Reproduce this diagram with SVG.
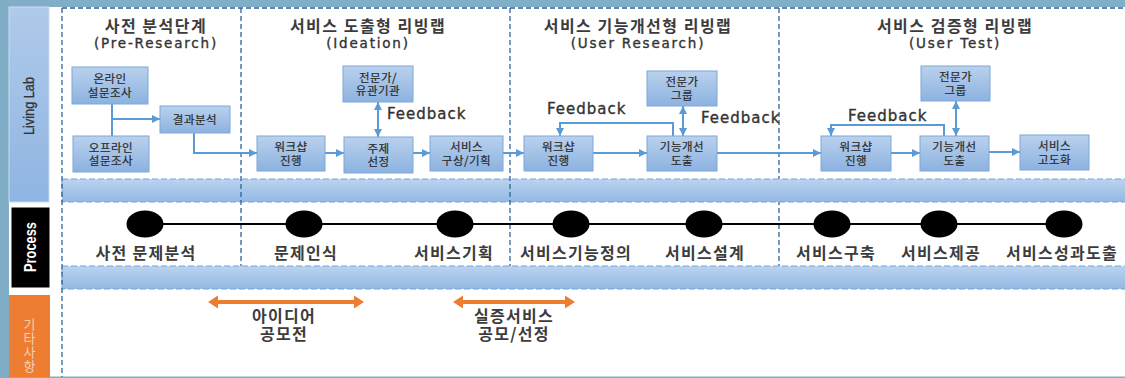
<svg xmlns="http://www.w3.org/2000/svg" width="1125" height="378" viewBox="0 0 1125 378">
<defs>
<linearGradient id="gBox" x1="0" y1="0" x2="0" y2="1"><stop offset="0" stop-color="#BAD1ED"/><stop offset="1" stop-color="#8CB2E0"/></linearGradient>
<linearGradient id="gBand" x1="0" y1="0" x2="0" y2="1"><stop offset="0" stop-color="#BCD3EF"/><stop offset="1" stop-color="#93B8E4"/></linearGradient>
<linearGradient id="gLL" x1="0" y1="0" x2="0" y2="1"><stop offset="0" stop-color="#AFCAEA"/><stop offset="1" stop-color="#8FB5E2"/></linearGradient>
<marker id="ah" viewBox="0 0 8 8" refX="8" refY="4" markerWidth="8" markerHeight="8" markerUnits="userSpaceOnUse" orient="auto-start-reverse"><path d="M0,0 L8,4 L0,8 z" fill="#5B9BD5"/></marker>
</defs>
<style>
.box{fill:url(#gBox);stroke:#7DA8DA;stroke-width:1}
.bt{font-family:"Noto Sans CJK KR","Noto Sans CJK SC",sans-serif;font-size:11.5px;fill:#2A2A2A;text-anchor:middle;letter-spacing:0.5px;stroke:#2A2A2A;stroke-width:0.2px}
.title{font-family:"Noto Sans CJK KR","Noto Sans CJK SC",sans-serif;font-size:16px;font-weight:700;fill:#3C3C3C;text-anchor:middle;letter-spacing:1.5px}
.sub{font-family:"DejaVu Sans",sans-serif;font-size:13.5px;fill:#333;text-anchor:middle;letter-spacing:1.8px;stroke:#333;stroke-width:0.35px}
.fb{font-family:"DejaVu Sans",sans-serif;font-size:15px;fill:#333;letter-spacing:1px;stroke:#333;stroke-width:0.35px}
.pl{font-family:"Noto Sans CJK KR","Noto Sans CJK SC",sans-serif;font-size:16px;font-weight:700;fill:#3C3C3C;text-anchor:middle;letter-spacing:1.3px}
.conn{fill:none;stroke:#5B9BD5;stroke-width:2}
.dash{stroke:#2F6496;stroke-width:1.3;stroke-dasharray:5 3;fill:none}
.band{fill:url(#gBand);stroke:#6FA6DC;stroke-width:1.2;stroke-dasharray:6 3}
.dot{fill:#000}
.orange{fill:#ED7D31}
</style>

<!-- frame -->
<rect x="0" y="0" width="1125" height="378" fill="#7FAEC6"/>
<rect x="9" y="7" width="1116" height="369.5" fill="#FFFFFF"/>

<!-- side labels -->
<g id="side-livinglab">
<rect x="9" y="7" width="40" height="195" fill="url(#gLL)" stroke="#C9DBF1" stroke-width="1"/>
<text transform="translate(34,106) rotate(-90)" text-anchor="middle" font-family="Liberation Sans, sans-serif" font-size="15" fill="#333" stroke="#333" stroke-width="0.3" textLength="58" lengthAdjust="spacingAndGlyphs">Living Lab</text>
</g>
<g id="side-process">
<rect x="11" y="207" width="39" height="81" fill="#000" stroke="#FFFFFF" stroke-width="1"/>
<text transform="translate(35.5,247) rotate(-90)" text-anchor="middle" font-family="Liberation Sans, sans-serif" font-size="16" font-weight="700" fill="#FFFFFF" textLength="50" lengthAdjust="spacingAndGlyphs">Process</text>
</g>
<g id="side-etc">
<rect x="9" y="295" width="41" height="82" fill="#ED7D31"/>
<text x="29.5" y="318" font-family="Noto Sans CJK KR, Noto Sans CJK SC, sans-serif" font-size="13" fill="#F8CFB0" style="writing-mode:vertical-rl;text-orientation:upright" letter-spacing="1">기타사항</text>
</g>

<!-- phase dividers and bands -->
<g id="grid">
<line class="dash" x1="779" y1="8" x2="779" y2="266"/>
<line class="dash" x1="62" y1="8" x2="1125" y2="8"/>
<rect class="band" x="62" y="179" width="1070" height="23"/>
<rect class="band" x="62" y="266" width="1070" height="23"/>
<line class="dash" x1="62" y1="8" x2="62" y2="377"/>
<line class="dash" x1="241" y1="8" x2="241" y2="266"/>
<line class="dash" x1="510" y1="8" x2="510" y2="266"/>
</g>

<!-- phase titles -->
<g id="phase-pre">
<text class="title" x="156" y="31.5">사전 분석단계</text>
<text class="sub" x="156" y="47.5">(Pre-Research)</text>
</g>
<g id="phase-ideation">
<text class="title" x="368" y="31.5">서비스 도출형 리빙랩</text>
<text class="sub" x="368" y="47.5">(Ideation)</text>
</g>
<g id="phase-userresearch">
<text class="title" x="638" y="31.5">서비스 기능개선형 리빙랩</text>
<text class="sub" x="638" y="47.5">(User Research)</text>
</g>
<g id="phase-usertest">
<text class="title" x="955" y="31.5">서비스 검증형 리빙랩</text>
<text class="sub" x="955" y="47.5">(User Test)</text>
</g>

<!-- connectors -->
<g id="connectors">
<path class="conn" d="M112,104 V136"/>
<path class="conn" d="M112,119 H160" marker-end="url(#ah)"/>
<path class="conn" d="M194,133 V153 H257" marker-end="url(#ah)"/>
<path class="conn" d="M325,153 H344" marker-end="url(#ah)"/>
<path class="conn" d="M413,153 H430" marker-end="url(#ah)"/>
<path class="conn" d="M503,153 H524" marker-end="url(#ah)"/>
<path class="conn" d="M593,153 H647" marker-end="url(#ah)"/>
<path class="conn" d="M717,153 H821" marker-end="url(#ah)"/>
<path class="conn" d="M891,153 H920" marker-end="url(#ah)"/>
<path class="conn" d="M989,152 H1020" marker-end="url(#ah)"/>
<path class="conn" d="M378,102 V137" marker-start="url(#ah)" marker-end="url(#ah)"/>
<path class="conn" d="M673,136 V123 H560 V136" marker-end="url(#ah)"/>
<path class="conn" d="M683,106 V136" marker-start="url(#ah)" marker-end="url(#ah)"/>
<path class="conn" d="M944,136 V125 H831 V136" marker-end="url(#ah)"/>
<path class="conn" d="M956,101 V136" marker-start="url(#ah)" marker-end="url(#ah)"/>
<text class="fb" x="387" y="119">Feedback</text>
<text class="fb" x="547" y="113.5">Feedback</text>
<text class="fb" x="701" y="122.5">Feedback</text>
<text class="fb" x="848" y="120.5">Feedback</text>
</g>

<!-- nodes -->
<g id="n-online"><rect class="box" x="72" y="67" width="76" height="37"/><text class="bt"><tspan x="110" y="83">온라인</tspan><tspan x="110" y="96.5">설문조사</tspan></text></g>
<g id="n-offline"><rect class="box" x="73" y="136" width="76" height="36"/><text class="bt"><tspan x="111" y="151.5">오프라인</tspan><tspan x="111" y="165">설문조사</tspan></text></g>
<g id="n-result"><rect class="box" x="160" y="106" width="70" height="27"/><text class="bt" x="195" y="124">결과분석</text></g>
<g id="n-ws1"><rect class="box" x="257" y="136" width="68" height="35"/><text class="bt"><tspan x="291" y="151">워크샵</tspan><tspan x="291" y="164.5">진행</tspan></text></g>
<g id="n-topic"><rect class="box" x="344" y="137" width="69" height="36"/><text class="bt"><tspan x="378.5" y="152.5">주제</tspan><tspan x="378.5" y="166">선정</tspan></text></g>
<g id="n-expert1"><rect class="box" x="343" y="66" width="70" height="36"/><text class="bt"><tspan x="378" y="81.5">전문가/</tspan><tspan x="378" y="95">유관기관</tspan></text></g>
<g id="n-plan"><rect class="box" x="430" y="136" width="73" height="35"/><text class="bt"><tspan x="466.5" y="151">서비스</tspan><tspan x="466.5" y="164.5">구상/기획</tspan></text></g>
<g id="n-ws2"><rect class="box" x="524" y="136" width="69" height="35"/><text class="bt"><tspan x="558.5" y="151">워크샵</tspan><tspan x="558.5" y="164.5">진행</tspan></text></g>
<g id="n-func1"><rect class="box" x="647" y="136" width="70" height="35"/><text class="bt"><tspan x="682" y="151">기능개선</tspan><tspan x="682" y="164.5">도출</tspan></text></g>
<g id="n-expert2"><rect class="box" x="647" y="71" width="70" height="35"/><text class="bt"><tspan x="682" y="86">전문가</tspan><tspan x="682" y="99.5">그룹</tspan></text></g>
<g id="n-ws3"><rect class="box" x="821" y="136" width="70" height="35"/><text class="bt"><tspan x="856" y="151">워크샵</tspan><tspan x="856" y="164.5">진행</tspan></text></g>
<g id="n-func2"><rect class="box" x="920" y="136" width="69" height="35"/><text class="bt"><tspan x="954.5" y="151">기능개선</tspan><tspan x="954.5" y="164.5">도출</tspan></text></g>
<g id="n-expert3"><rect class="box" x="921" y="66" width="69" height="35"/><text class="bt"><tspan x="955.5" y="81">전문가</tspan><tspan x="955.5" y="94.5">그룹</tspan></text></g>
<g id="n-advance"><rect class="box" x="1020" y="135" width="69" height="35"/><text class="bt"><tspan x="1054.5" y="150">서비스</tspan><tspan x="1054.5" y="163.5">고도화</tspan></text></g>

<!-- process timeline -->
<g id="process">
<line x1="145" y1="224" x2="1064" y2="224" stroke="#000" stroke-width="2.2"/>
<ellipse class="dot" cx="145" cy="224" rx="18.5" ry="13.5"/>
<ellipse class="dot" cx="304" cy="224" rx="18.5" ry="13.5"/>
<ellipse class="dot" cx="455" cy="224" rx="18.5" ry="13.5"/>
<ellipse class="dot" cx="571" cy="224" rx="18.5" ry="13.5"/>
<ellipse class="dot" cx="704" cy="224" rx="18.5" ry="13.5"/>
<ellipse class="dot" cx="832" cy="224" rx="18.5" ry="13.5"/>
<ellipse class="dot" cx="939" cy="224" rx="18.5" ry="13.5"/>
<ellipse class="dot" cx="1064" cy="224" rx="18.5" ry="13.5"/>
<text class="pl" x="146" y="258.5">사전 문제분석</text>
<text class="pl" x="306" y="258.5">문제인식</text>
<text class="pl" x="454" y="258.5">서비스기획</text>
<text class="pl" x="576" y="258.5">서비스기능정의</text>
<text class="pl" x="705" y="258.5">서비스설계</text>
<text class="pl" x="836" y="258.5">서비스구축</text>
<text class="pl" x="941" y="258.5">서비스제공</text>
<text class="pl" x="1062" y="258.5">서비스성과도출</text>
</g>

<!-- other items -->
<g id="etc-idea">
<polygon class="orange" points="208,302 218,295.5 218,300 354,300 354,295.5 364,302 354,308.5 354,304 218,304 218,308.5"/>
<text class="pl"><tspan x="284" y="321.5">아이디어</tspan><tspan x="284" y="339.5">공모전</tspan></text>
</g>
<g id="etc-pilot">
<polygon class="orange" points="453,302 463,295.5 463,300 565,300 565,295.5 575,302 565,308.5 565,304 463,304 463,308.5"/>
<text class="pl"><tspan x="514" y="321.5">실증서비스</tspan><tspan x="514" y="339.5">공모/선정</tspan></text>
</g>
</svg>
